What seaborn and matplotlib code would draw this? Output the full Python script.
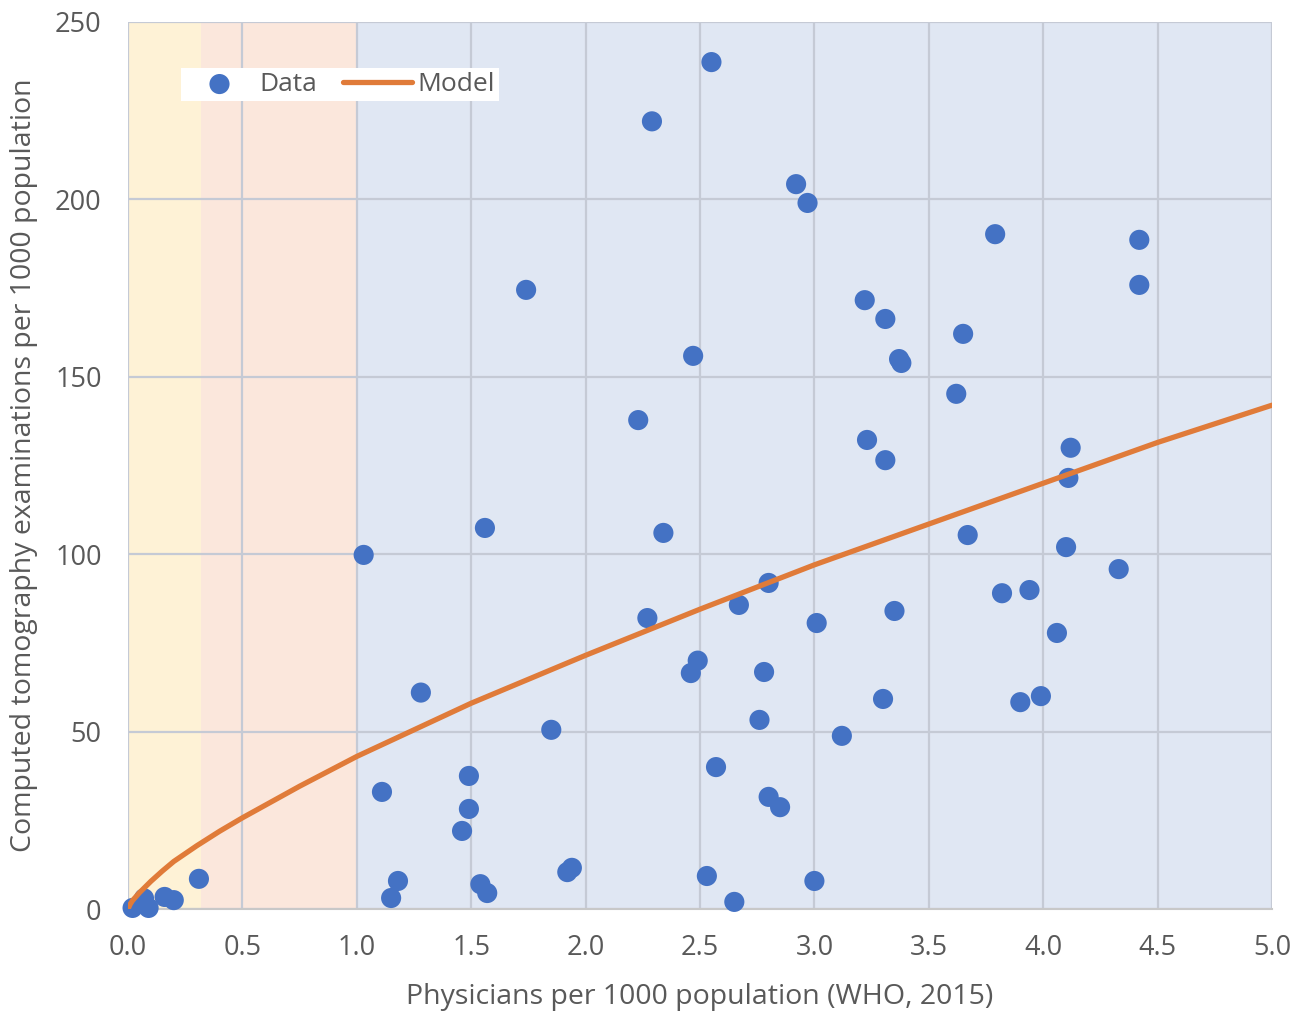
import matplotlib
matplotlib.use("Agg")
import matplotlib.pyplot as plt
import seaborn as sns
import pandas as pd

# ---- data ----
phys = [0.02, 0.07, 0.09, 0.16, 0.20, 0.31,
        1.03, 1.11, 1.15, 1.18, 1.28, 1.46, 1.49, 1.49, 1.54, 1.56, 1.57,
        1.74, 1.85, 1.92, 1.94,
        2.23, 2.27, 2.29, 2.34, 2.46, 2.47, 2.49, 2.53, 2.55, 2.57, 2.65, 2.67,
        2.76, 2.78, 2.80, 2.80, 2.85, 2.92, 2.97,
        3.00, 3.01, 3.12, 3.22, 3.23, 3.30, 3.31, 3.31, 3.35, 3.37, 3.38,
        3.62, 3.65, 3.67, 3.79, 3.82, 3.90, 3.94, 3.99,
        4.06, 4.10, 4.11, 4.12, 4.33, 4.42, 4.42]
ct = [0.3, 3.0, 0.3, 3.4, 2.5, 8.5,
      99.8, 33.0, 3.1, 7.9, 61.0, 22.0, 37.5, 28.2, 7.0, 107.4, 4.5,
      174.5, 50.5, 10.4, 11.6,
      137.8, 82.0, 222.0, 106.0, 66.5, 155.9, 70.0, 9.3, 238.7, 40.0, 2.0, 85.7,
      53.3, 66.8, 31.6, 91.9, 28.7, 204.3, 199.0,
      7.9, 80.6, 48.8, 171.6, 132.2, 59.2, 166.3, 126.5, 84.0, 155.0, 153.9,
      145.2, 162.1, 105.4, 190.2, 89.0, 58.3, 89.9, 60.0,
      77.8, 102.0, 121.5, 130.0, 95.8, 175.9, 188.6]

model_x = [0, 0.01, 0.02, 0.05, 0.1, 0.15, 0.2, 0.3, 0.4, 0.5, 0.75, 1.0, 1.25,
           1.5, 2.0, 2.5, 3.0, 3.5, 4.0, 4.5, 5.0]
model_y = [0, 1.4, 2.4, 4.6, 7.8, 10.7, 13.4, 17.8, 21.9, 25.7, 34.6, 43.0, 50.5,
           58.0, 71.5, 84.5, 97.0, 108.5, 120.0, 131.5, 142.0]

band_edges = [0.0, 0.32, 1.0, 5.0]
band_colors = ["#FEF2D6", "#FBE7DC", "#E0E7F3"]

x_ticks = [0.0, 0.5, 1.0, 1.5, 2.0, 2.5, 3.0, 3.5, 4.0, 4.5, 5.0]
y_ticks = [0, 50, 100, 150, 200, 250]

xlabel = "Physicians per 1000 population (WHO, 2015)"
ylabel = "Computed tomography examinations per 1000 population"

# ---- plot ----
sns.set_style("white")
plt.rcParams["font.family"] = ["Open Sans", "DejaVu Sans"]
text_col = "#595959"

fig = plt.figure(figsize=(12.94, 10.13), dpi=100)
ax = fig.add_axes([128 / 1294, 1 - 909 / 1013, 1144 / 1294, 887 / 1013])

for i, c in enumerate(band_colors):
    ax.axvspan(band_edges[i], band_edges[i + 1], color=c, lw=0, zorder=0)

ax.set_xlim(0, 5)
ax.set_ylim(0, 250)
ax.set_xticks(x_ticks)
ax.set_yticks(y_ticks)
ax.set_xticklabels([f"{v:.1f}" for v in x_ticks])
ax.set_yticklabels([str(v) for v in y_ticks])
ax.grid(True, color="#C5CAD5", lw=1.6, zorder=1)
ax.set_axisbelow(True)

df = pd.DataFrame({"x": phys, "y": ct})
dm = pd.DataFrame({"x": model_x, "y": model_y})

sns.scatterplot(data=df, x="x", y="y", ax=ax, color="#4472C4", s=210,
                edgecolor="none", zorder=3, label="Data", clip_on=False)
sns.lineplot(data=dm, x="x", y="y", ax=ax, color="#E07B39", lw=3.8,
             zorder=4, label="Model", sort=False)

for s in ["top", "right", "left"]:
    ax.spines[s].set_visible(False)
ax.spines["bottom"].set_color("#C8C8C8")
ax.spines["bottom"].set_linewidth(1.5)

ax.tick_params(axis="both", length=0, labelsize=19.5, colors=text_col)
ax.tick_params(axis="x", pad=18)
ax.tick_params(axis="y", pad=19)
ax.set_xlabel(xlabel, fontsize=20.5, color=text_col)
ax.set_ylabel(ylabel, fontsize=20.5, color=text_col)
ax.xaxis.set_label_coords(0.5, -(997 - 909) / 887)
ax.yaxis.set_label_coords(-(128 - 24) / 1144, 0.5)
ax.xaxis.label.set_va("center")
ax.yaxis.label.set_va("center")

leg = ax.legend(loc="upper left", bbox_to_anchor=(0.035, 0.963), ncol=2,
                frameon=True, fancybox=False, framealpha=1, edgecolor="white",
                fontsize=19, handlelength=2.6, columnspacing=1.0,
                handletextpad=0.2, borderpad=0.15, markerscale=1.0)
leg.get_frame().set_linewidth(0)
for t in leg.get_texts():
    t.set_color(text_col)

fig.savefig("out.png", dpi=100)
